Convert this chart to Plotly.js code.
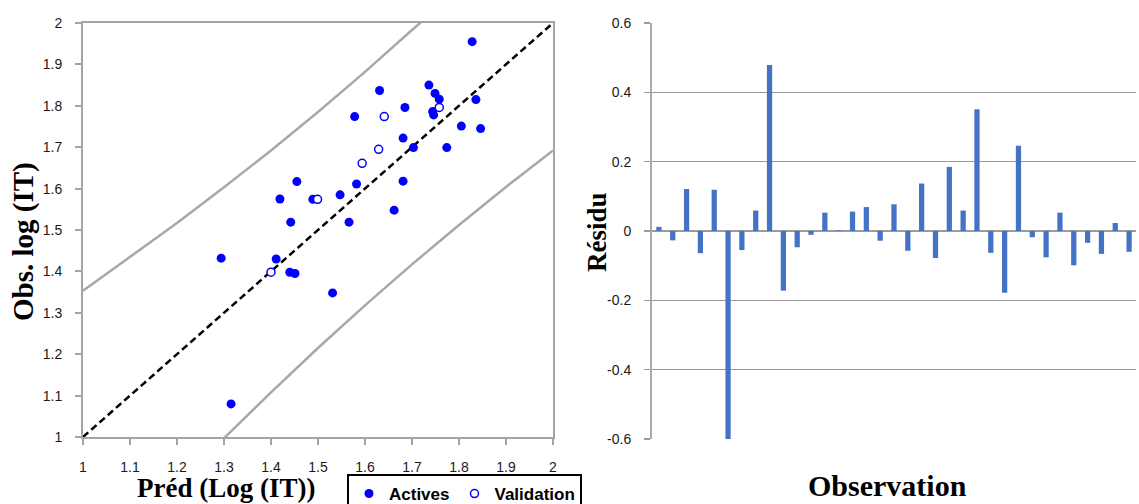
<!DOCTYPE html>
<html>
<head>
<meta charset="utf-8">
<script src="https://cdn.plot.ly/plotly-3.0.1.min.js"></script>
<style>html,body{margin:0;padding:0;background:#fff;}#chart{width:1139px;height:504px;}</style>
</head>
<body>
<div id="chart"></div>
<script>
// ---- Data ----
const activesX = [1.294,1.315,1.411,1.440,1.451,1.531,1.455,1.419,1.442,1.489,1.828,1.631,1.736,1.749,1.758,1.836,1.685,1.578,1.744,1.746,1.805,1.846,1.681,1.703,1.774,1.582,1.681,1.547,1.662,1.566];
const activesY = [1.432,1.080,1.430,1.398,1.395,1.348,1.617,1.575,1.519,1.574,1.955,1.837,1.850,1.830,1.816,1.815,1.796,1.774,1.786,1.778,1.751,1.745,1.722,1.699,1.699,1.611,1.618,1.585,1.548,1.519];
const validX = [1.400,1.499,1.758,1.641,1.629,1.594];
const validY = [1.398,1.574,1.796,1.774,1.695,1.661];

const diagX = [1, 2];
const diagY = [1, 2];

const upperBandX = [1.0, 1.1, 1.2, 1.3, 1.4, 1.5, 1.6, 1.7, 1.72];
const upperBandY = [1.353, 1.434, 1.517, 1.603, 1.692, 1.785, 1.882, 1.983, 2.003];
const lowerBandX = [1.3, 1.4, 1.5, 1.6, 1.7, 1.8, 1.9, 2.0];
const lowerBandY = [0.997, 1.108, 1.215, 1.318, 1.417, 1.512, 1.604, 1.692];

const observations = Array.from({length: 35}, (_, i) => i + 1);
const residuals = [0.012,-0.027,0.121,-0.064,0.119,-0.600,-0.055,0.059,0.479,-0.172,-0.047,-0.011,0.053,0.002,0.056,0.069,-0.028,0.077,-0.057,0.137,-0.078,0.185,0.059,0.351,-0.063,-0.178,0.246,-0.018,-0.076,0.053,-0.099,-0.034,-0.066,0.023,-0.060];

const leftTickVals = [1,1.1,1.2,1.3,1.4,1.5,1.6,1.7,1.8,1.9,2];
const leftTickText = ['1','1.1','1.2','1.3','1.4','1.5','1.6','1.7','1.8','1.9','2'];
const resTickVals = [-0.6,-0.4,-0.2,0,0.2,0.4,0.6];
const resTickText = ['-0.6','-0.4','-0.2','0','0.2','0.4','0.6'];

// ---- Styles ----
const axisGray = '#a3a3a3';
const gridGray = '#9b9b9b';
const tickFont = {family: 'Liberation Sans, Arial, sans-serif', size: 14, color: '#1a1a1a'};
const serif = 'Liberation Serif, Times New Roman, serif';
function titleFont(size) { return {family: serif, size: size, color: '#000', weight: 'bold'}; }

const traces = [
  {x: upperBandX, y: upperBandY, type: 'scatter', mode: 'lines', line: {color: '#a8a8a8', width: 2.5}, showlegend: false, hoverinfo: 'skip', xaxis: 'x', yaxis: 'y'},
  {x: lowerBandX, y: lowerBandY, type: 'scatter', mode: 'lines', line: {color: '#a8a8a8', width: 2.5}, showlegend: false, hoverinfo: 'skip', xaxis: 'x', yaxis: 'y'},
  {x: diagX, y: diagY, type: 'scatter', mode: 'lines', line: {color: '#000', width: 2.5, dash: '7px,4px'}, showlegend: false, hoverinfo: 'skip', xaxis: 'x', yaxis: 'y'},
  {x: activesX, y: activesY, type: 'scatter', mode: 'markers', name: 'Actives', marker: {color: '#0000ff', size: 9}, xaxis: 'x', yaxis: 'y'},
  {x: validX, y: validY, type: 'scatter', mode: 'markers', name: 'Validation', marker: {color: '#ffffff', size: 8, line: {color: '#0000ff', width: 1.5}}, xaxis: 'x', yaxis: 'y'},
  {x: observations, y: residuals, type: 'bar', marker: {color: '#4472c4'}, showlegend: false, xaxis: 'x2', yaxis: 'y2'}
];

const layout = {
  width: 1139, height: 504,
  margin: {l: 0, r: 0, t: 0, b: 0, autoexpand: false},
  paper_bgcolor: '#fff', plot_bgcolor: '#fff',
  bargap: 0.62,
  xaxis: {
    domain: [83/1139, 553/1139], range: [1, 2], anchor: 'y', automargin: false,
    tickvals: leftTickVals, ticktext: leftTickText,
    showline: true, mirror: true, linecolor: axisGray, linewidth: 2,
    ticks: 'outside', ticklen: 6, tickwidth: 2, tickcolor: axisGray,
    showgrid: false, zeroline: false, tickfont: tickFont, ticklabelstandoff: 10
  },
  yaxis: {
    domain: [1 - 437/504, 1 - 23/504], range: [1, 2], anchor: 'x', automargin: false,
    tickvals: leftTickVals, ticktext: leftTickText,
    showline: true, mirror: true, linecolor: axisGray, linewidth: 2,
    ticks: 'outside', ticklen: 6, tickwidth: 2, tickcolor: axisGray,
    showgrid: false, zeroline: false, tickfont: tickFont, ticklabelstandoff: 10
  },
  xaxis2: {
    domain: [652/1139, 1136/1139], range: [0.5, 35.5], anchor: 'y2', automargin: false,
    showticklabels: false, ticks: '', showgrid: false, showline: false, zeroline: false
  },
  yaxis2: {
    domain: [1 - 439/504, 1 - 23/504], range: [-0.6, 0.6], anchor: 'x2', automargin: false,
    tickvals: resTickVals, ticktext: resTickText,
    showline: true, linecolor: '#aaaaaa', linewidth: 2,
    ticks: 'outside', ticklen: 6, tickwidth: 1.5, tickcolor: gridGray,
    showgrid: true, gridcolor: gridGray, gridwidth: 1.5, zeroline: false,
    tickfont: tickFont, ticklabelstandoff: 10
  },
  legend: {
    orientation: 'h', x: 347/1139, xanchor: 'left', y: 1 - 474/504, yanchor: 'top',
    bgcolor: '#fff', bordercolor: '#000', borderwidth: 2,
    font: {family: 'Liberation Sans, Arial, sans-serif', size: 17, color: '#000', weight: 'bold'},
    itemwidth: 30, traceorder: 'normal'
  },
  annotations: [
    {text: 'Préd (Log (IT))', xref: 'paper', yref: 'paper', x: 226/1139, y: 1 - 488/504, xanchor: 'center', yanchor: 'middle', showarrow: false, font: titleFont(27)},
    {text: 'Obs. log (IT)', xref: 'paper', yref: 'paper', x: 23/1139, y: 1 - 242/504, xanchor: 'center', yanchor: 'middle', textangle: -90, showarrow: false, font: titleFont(29)},
    {text: 'Observation', xref: 'paper', yref: 'paper', x: 887/1139, y: 1 - 485/504, xanchor: 'center', yanchor: 'middle', showarrow: false, font: titleFont(30)},
    {text: 'Résidu', xref: 'paper', yref: 'paper', x: 597/1139, y: 1 - 232/504, xanchor: 'center', yanchor: 'middle', textangle: -90, showarrow: false, font: titleFont(27)}
  ]
};

Plotly.newPlot('chart', traces, layout, {staticPlot: true, displayModeBar: false});
</script>
</body>
</html>
